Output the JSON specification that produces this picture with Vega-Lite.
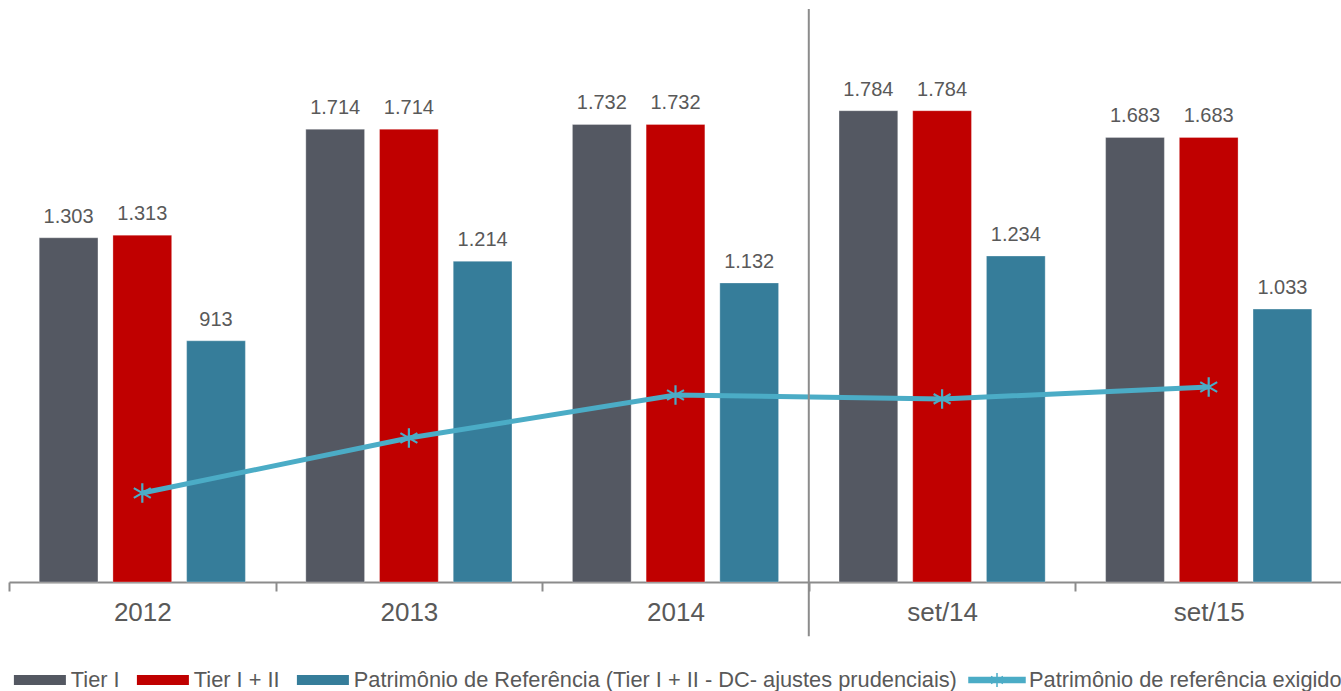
{
  "$schema": "https://vega.github.io/schema/vega-lite/v6.json",
  "width": 1333,
  "height": 573,
  "padding": {"left": 8, "top": 8, "right": 0, "bottom": 0},
  "background": "white",
  "config": {
    "view": {"stroke": null},
    "font": "Liberation Sans",
    "locale": {"number": {"decimal": ",", "thousands": ".", "grouping": [3], "currency": ["R$", ""]}},
    "legend": {"layout": {"bottom": {"anchor": "end", "direction": "horizontal", "margin": 29}}}
  },
  "datasets": {
    "bars": [
      {"cat": "2012", "series": "Tier I", "value": 1303},
      {"cat": "2012", "series": "Tier I + II", "value": 1313},
      {"cat": "2012", "series": "Patrimônio de Referência (Tier I + II - DC- ajustes prudenciais)", "value": 913},
      {"cat": "2013", "series": "Tier I", "value": 1714},
      {"cat": "2013", "series": "Tier I + II", "value": 1714},
      {"cat": "2013", "series": "Patrimônio de Referência (Tier I + II - DC- ajustes prudenciais)", "value": 1214},
      {"cat": "2014", "series": "Tier I", "value": 1732},
      {"cat": "2014", "series": "Tier I + II", "value": 1732},
      {"cat": "2014", "series": "Patrimônio de Referência (Tier I + II - DC- ajustes prudenciais)", "value": 1132},
      {"cat": "set/14", "series": "Tier I", "value": 1784},
      {"cat": "set/14", "series": "Tier I + II", "value": 1784},
      {"cat": "set/14", "series": "Patrimônio de Referência (Tier I + II - DC- ajustes prudenciais)", "value": 1234},
      {"cat": "set/15", "series": "Tier I", "value": 1683},
      {"cat": "set/15", "series": "Tier I + II", "value": 1683},
      {"cat": "set/15", "series": "Patrimônio de Referência (Tier I + II - DC- ajustes prudenciais)", "value": 1033}
    ],
    "line": [
      {"cat": "2012", "series": "Patrimônio de referência exigido", "value": 337},
      {"cat": "2013", "series": "Patrimônio de referência exigido", "value": 545},
      {"cat": "2014", "series": "Patrimônio de referência exigido", "value": 708},
      {"cat": "set/14", "series": "Patrimônio de referência exigido", "value": 693},
      {"cat": "set/15", "series": "Patrimônio de referência exigido", "value": 738}
    ],
    "sep": [{"cat": "set/14", "top": 2169, "bottom": -205}]
  },
  "encoding": {
    "x": {
      "field": "cat",
      "type": "nominal",
      "sort": ["2012", "2013", "2014", "set/14", "set/15"],
      "scale": {"paddingInner": 0, "paddingOuter": 0},
      "axis": {
        "title": null,
        "labelAngle": 0,
        "labelFontSize": 26,
        "labelColor": "#595959",
        "labelPadding": 8,
        "domainColor": "#8c8c8c",
        "domainWidth": 2,
        "tickColor": "#8c8c8c",
        "tickWidth": 2,
        "tickSize": 9,
        "tickBand": "extent"
      }
    }
  },
  "layer": [
    {
      "data": {"name": "bars"},
      "mark": {"type": "bar", "stroke": "white", "strokeWidth": 0.6, "strokeOpacity": 0.5},
      "encoding": {
        "xOffset": {
          "field": "series",
          "sort": ["Tier I", "Tier I + II", "Patrimônio de Referência (Tier I + II - DC- ajustes prudenciais)"],
          "scale": {"paddingInner": 0.203, "paddingOuter": 0.41}
        },
        "y": {"field": "value", "type": "quantitative", "scale": {"domain": [0, 2169], "nice": false, "zero": true}, "axis": null},
        "fill": {
          "field": "series",
          "type": "nominal",
          "scale": {
            "domain": ["Tier I", "Tier I + II", "Patrimônio de Referência (Tier I + II - DC- ajustes prudenciais)"],
            "range": ["#545862", "#C00000", "#367D9A"]
          },
          "legend": {
            "title": null,
            "orient": "bottom",
            "direction": "horizontal",
            "symbolType": "M-2.6,-0.5H2.6V0.5H-2.6Z",
            "symbolSize": 400,
            "symbolStrokeWidth": 0,
            "labelFontSize": 21.8,
            "labelColor": "#595959",
            "labelLimit": 800,
            "labelOffset": 20,
            "columnPadding": 16,
            "offset": 44
          }
        }
      }
    },
    {
      "data": {"name": "bars"},
      "mark": {"type": "text", "dy": -11, "fontSize": 20, "color": "#595959", "baseline": "bottom"},
      "encoding": {
        "xOffset": {
          "field": "series",
          "sort": ["Tier I", "Tier I + II", "Patrimônio de Referência (Tier I + II - DC- ajustes prudenciais)"],
          "scale": {"paddingInner": 0.203, "paddingOuter": 0.41}
        },
        "y": {"field": "value", "type": "quantitative"},
        "text": {"field": "value", "type": "quantitative", "format": ",d"}
      }
    },
    {
      "data": {"name": "line"},
      "mark": {"type": "line", "strokeWidth": 5},
      "encoding": {
        "y": {"field": "value", "type": "quantitative"},
        "stroke": {
          "field": "series",
          "type": "nominal",
          "scale": {"range": ["#4BACC6"]},
          "legend": {
            "title": null,
            "orient": "bottom",
            "symbolType": "M-2.8,-0.25H2.8V0.25H-2.8ZM0,-0.7V0.7M-0.6,-0.35L0.6,0.35M-0.6,0.35L0.6,-0.35",
            "symbolSize": 400,
            "symbolStrokeWidth": 1.5,
            "symbolFillColor": "#4BACC6",
            "labelFontSize": 21.8,
            "labelColor": "#595959",
            "labelLimit": 800,
            "labelOffset": 21,
            "offset": 44
          }
        }
      }
    },
    {
      "data": {"name": "line"},
      "mark": {"type": "point", "shape": "M0,-1V1M-0.87,-0.5L0.87,0.5M-0.87,0.5L0.87,-0.5", "size": 380, "filled": false, "stroke": "#4BACC6", "strokeWidth": 2.2, "opacity": 1},
      "encoding": {
        "y": {"field": "value", "type": "quantitative"}
      }
    },
    {
      "data": {"name": "sep"},
      "mark": {"type": "rule", "color": "#8c8c8c", "strokeWidth": 2},
      "encoding": {
        "x": {"field": "cat", "type": "nominal", "bandPosition": 0},
        "y": {"field": "top", "type": "quantitative"},
        "y2": {"field": "bottom"}
      }
    }
  ]
}
